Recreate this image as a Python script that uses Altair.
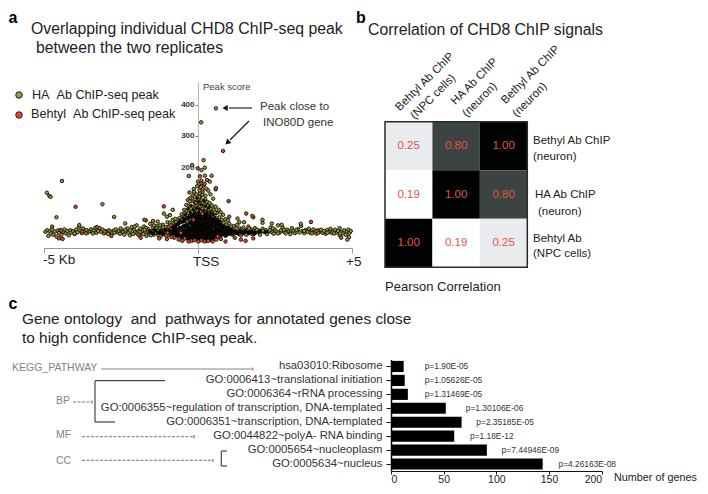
import altair as alt
import pandas as pd

# ---------- panel a values: (distance from TSS in kb, peak score) ----------
ha_left = [(-4.94,-9),(-4.88,-4),(-4.84,-22),(-4.8,-6),(-4.76,-14),(-4.72,-2),(-4.68,-18),(-4.63,-8),(-4.58,-24),(-4.54,-5),
 (-4.5,-13),(-4.46,-3),(-4.42,-19),(-4.37,-9),(-4.32,-1),(-4.28,-14),(-4.23,-6),(-4.18,-20),(-4.13,-4),(-4.09,-11),
 (-4.04,-7),(-3.99,-16),(-3.94,-2),(-3.9,-10),(-3.85,8),(-3.8,-5),(-3.76,-13),(-3.72,2),(-3.66,-8),(-3.61,-3),
 (-3.56,-11),(-3.5,-6),(-3.46,-1),(-3.42,-9),(-3.37,-4),(-3.32,4),(-3.28,-12),(-3.23,-6),(-3.18,3),(-3.13,-9),
 (-3.08,-2),(-3.04,-14),(-2.98,-7),(-2.93,-11),(-2.88,-4),(-2.82,-8),(-2.77,-13),(-2.72,-5),(-2.66,-1),(-2.61,-10),
 (-2.56,-6),(-2.52,-15),(-2.47,-3),(-2.42,-9),(-2.38,-18),(-2.33,-7),(-2.28,2),(-2.24,-12),(-2.19,-5),(-2.14,7),
 (-2.1,-16),(-2.06,-3),(-2.02,-10),(-1.98,12),(-1.94,-7),(-1.9,-20),(-1.86,2),(-1.82,-13),(-1.78,-4),(-1.74,8),
 (-1.7,-9),(-1.66,-22),(-1.62,1),(-1.58,-14),(-1.54,17),(-1.5,-6),(-1.46,6),(-1.43,-18),(-1.4,-2),(-1.36,-11),
 (-1.33,9),(-1.3,-5),(-1.26,-15),(-1.23,3),(-1.2,-23),(-1.16,-8),(-1.13,14),(-1.1,-2),(-1.07,-17),(-1.04,6),
 (-1.01,-10),(-0.98,22),(-0.95,-3),(-0.92,-20),(-0.89,11),(-0.86,-7),(-0.84,2),(-0.81,30),(-0.78,-13),(-0.76,18)]
ha_right = [(1.12,-18),(1.16,10),(1.2,-4),(1.24,-12),(1.28,14),(1.32,-6),(1.36,2),(1.4,-20),(1.44,-9),(1.48,5),
 (1.52,-14),(1.56,-3),(1.6,-8),(1.64,8),(1.68,-11),(1.72,-1),(1.76,-16),(1.8,-6),(1.85,3),(1.9,-10),
 (1.95,-4),(2.0,-13),(2.05,-7),(2.1,1),(2.15,-9),(2.2,-3),(2.26,-12),(2.31,-6),(2.36,5),(2.41,-10),
 (2.46,-15),(2.5,-2),(2.56,-8),(2.6,12),(2.65,-12),(2.7,-4),(2.75,5),(2.8,-9),(2.85,-14),(2.9,-2),
 (2.95,-7),(3.0,-11),(3.05,3),(3.1,-5),(3.15,-13),(3.2,-8),(3.25,-1),(3.3,-11),(3.35,10),(3.4,-6),
 (3.45,-13),(3.5,-3),(3.55,-9),(3.6,1),(3.65,-12),(3.7,-6),(3.75,-1),(3.8,-10),(3.85,-15),(3.9,-4),
 (3.95,-9),(4.0,-2),(4.05,-12),(4.1,-6),(4.15,-15),(4.2,-3),(4.25,-9),(4.3,1),(4.35,-13),(4.4,-7),
 (4.45,-2),(4.5,-11),(4.55,-6),(4.6,3),(4.65,-9),(4.7,-14),(4.75,-4),(4.8,-18),(4.84,-8),(4.88,-2),
 (4.92,-12),(4.96,-6),(4.9,-26),(4.85,-34),(4.6,-20),(3.34,17),(2.4,18),(2.1,20),(1.5,22),(2.72,14)]
ha_band_extra = [(-2.9,-16),(-2.7,-12),(-2.5,2),(-2.35,-2),(-2.2,-20),(-2.05,8),(-1.96,-14),(-1.88,-9),(-1.76,-16),(-1.68,4),
 (-1.6,-8),(-1.52,-20),(-1.44,-8),(-1.35,2),(-1.28,-20),(-1.18,-4),(-1.12,6),(-1.03,-20),(-0.94,8),(-0.88,-12),
 (-0.9,20),(-1.22,12),(-1.42,12),(-1.72,-2),(1.18,-14),(1.26,2),(1.34,-16),(1.42,-2),(1.5,-10),(1.58,-18),
 (1.66,2),(1.74,-10),(1.82,-16),(1.92,-2),(2.02,-18),(2.12,-6),(2.24,-16),(2.34,-4),(2.44,2),(2.6,-14),
 (2.8,-2),(3.0,-16),(3.2,-2),(3.45,-6),(3.7,-14),(3.9,-12),(4.2,-12),(4.42,-14),(4.62,-14),(-3.4,-14),(-3.62,-14),(-4.0,-14)]
ha_outliers = [(0.59,389),(0.11,344),(0.19,222),(-0.18,206),(0.23,198),(0.12,190),(-0.29,171),(0.45,172),(0.23,172),
 (-4.4,155),(-4.89,117),(-4.81,107),(-4.77,104),(-3.09,80),(-4.58,38),(-2.71,39),(-2.35,18),(-3.84,13),(-0.81,62),
 (-1.1,50),(-1.45,26),(-1.68,28),(1.29,34),(1.8,38),(2.1,30),(1.35,22),(-1.3,24),(-1.0,40),(-0.9,45),(-0.72,33)]
ha_peak = [(0.12,156),(0.01,153),(0.39,153),(0.58,128),(-0.13,129),(-0.12,120),(0.04,146),(-0.02,138),(0.1,135),(0.2,142),
 (0.28,130),(0.34,124),(0.16,120),(0.07,115),(-0.05,112),(-0.16,108),(-0.24,100),(0.41,112),(0.25,108),(0.5,98),
 (-0.32,94),(-0.2,90),(-0.08,96),(0.03,98),(0.13,92),(0.3,88),(0.38,84),(0.22,80),(0.47,76),(0.58,72),
 (0.68,62),(0.62,52),(0.74,54),(0.82,46),(-0.37,78),(-0.28,76),(-0.16,72),(-0.04,78),(0.08,74),(0.17,66),
 (0.28,62),(0.36,60),(0.46,56),(0.54,44),(0.7,38),(0.9,32),(0.98,28),(-0.44,62),(-0.36,58),(-0.27,60),
 (-0.18,56),(-0.1,60),(0.0,62),(0.1,56),(0.2,50),(0.3,46),(0.4,44),(0.48,40),(0.6,34),(0.78,30),
 (-0.52,48),(-0.45,40),(-0.34,44),(-0.25,46),(-0.14,44),(-0.05,46),(-0.58,36),(-0.66,30),(-0.5,32),(-0.4,34),
 (-0.3,36),(-0.7,22),(-0.62,18),(-0.75,12),(0.84,20),(0.93,14),(1.02,18),(1.08,8),(0.66,26),(0.72,22),
 (-0.26,90),(-0.1,104),(0.06,125),(0.14,110),(0.24,96),(0.33,74),(0.43,66),(0.52,62),(0.56,54),(-0.06,86),
 (0.15,84),(0.05,86),(-0.12,66),(-0.22,66),(0.25,68),(0.33,54),(-0.3,52),(-0.42,50),(0.44,50),(0.5,30)]
dense_upper = [(-0.02,100),(0.1,104),(0.2,92),(-0.1,84),(0.02,88),(0.12,78),(0.24,74),(0.36,70),(-0.22,76),(-0.32,66),
 (-0.14,62),(-0.03,68),(0.06,64),(0.18,58),(0.3,54),(0.42,52),(0.5,46),(-0.4,46),(-0.24,52),(-0.08,52),
 (0.03,54),(0.14,46),(0.26,48),(0.38,36),(0.54,36),(0.62,30),(-0.48,36),(-0.34,36),(-0.2,40),(-0.06,42),
 (0.08,44),(0.22,40),(0.34,34),(0.46,30),(0.7,24),(-0.58,26),(-0.44,24),(0.76,14),(-0.68,14),(0.86,10)]
dense_core = [(-0.8,-8),(-0.74,-14),(-0.7,-2),(-0.66,-20),(-0.62,-8),(-0.58,2),(-0.56,-14),(-0.52,-24),(-0.5,-5),(-0.46,8),
 (-0.44,-16),(-0.4,-28),(-0.38,-6),(-0.36,12),(-0.33,-18),(-0.3,2),(-0.28,-30),(-0.26,20),(-0.24,-10),(-0.2,-22),
 (-0.18,8),(-0.16,28),(-0.14,-14),(-0.12,-30),(-0.1,-2),(-0.08,18),(-0.06,36),(-0.04,-20),(-0.02,6),(0.0,-32),
 (0.02,-10),(0.03,24),(0.05,44),(0.06,-24),(0.08,10),(0.1,-4),(0.12,32),(0.14,-16),(0.15,-34),(0.17,48),
 (0.18,16),(0.2,-8),(0.22,-28),(0.23,34),(0.26,2),(0.28,22),(0.3,-20),(0.31,-36),(0.33,40),(0.35,8),
 (0.37,-10),(0.39,26),(0.41,-30),(0.43,-2),(0.45,14),(0.47,-18),(0.49,30),(0.52,-8),(0.54,-28),(0.56,8),
 (0.58,20),(0.6,-14),(0.63,-2),(0.66,-24),(0.69,10),(0.72,-8),(0.75,-18),(0.78,2),(0.82,-12),(0.86,-4),
 (0.9,-20),(0.94,-8),(0.98,2),(1.02,-14),(1.06,-6),(1.1,-10),(-0.22,-6),(-0.34,-8),(-0.1,-16),(0.04,-14),
 (0.13,-22),(0.25,-12),(0.36,-24),(0.46,-34),(0.1,20),(0.0,26),(-0.08,0),(0.2,6),(0.32,14),(0.42,6),
 (-0.16,-8),(-0.28,-14),(-0.42,-8),(0.06,-2),(0.16,0),(0.27,-4),(0.38,-4),(0.5,-16),(0.62,-10),(0.7,-14),
 (-0.12,14),(0.0,10),(0.08,30),(0.18,32),(0.28,12),(0.4,18),(0.53,16),(0.6,6),(-0.04,-6),(-0.2,-14)]
dense_sides = [(-1.55,-8),(-1.45,-14),(-1.38,-4),(-1.28,-12),(-1.2,-7),(-1.12,-16),(-1.05,-3),(-0.98,-12),(-0.92,-6),(-0.86,-18),
 (-0.8,6),(-0.72,10),(-0.64,16),(-0.56,22),(-0.48,24),(-0.4,30),(-0.32,34),(-0.24,40),(-0.12,46),(0.28,44),
 (0.4,38),(0.5,28),(0.62,24),(0.72,16),(0.84,8),(0.95,4),(1.1,-2),(1.14,-14),(1.22,-8),(1.3,-14),
 (1.38,-6),(1.46,-12),(1.55,-7),(1.65,-13),(1.75,-9),(1.85,-13),(2.0,-8),(2.2,-9)]
behtyl = [(0.82,252),(0.0,196),(0.07,170),(-3.96,72),(1.0,90),(-1.1,73),(1.57,50),(1.77,42),(3.67,23),(-1.73,30),
 (1.02,40),(-0.27,118),(0.59,132),(0.05,104),(0.16,128),(0.12,148),(0.22,146),(0.3,158),(-0.06,85),(-4.72,8),
 (-4.5,-30),(-4.38,-32),(-4.42,-5),(-3.75,-8),(-3.26,6),(-3.02,-8),(-0.88,12),(-0.76,-28),(-1.85,-28),(-2.8,-22),
 (-1.92,-18),(-1.25,-30),(-1.0,-32),(-0.85,-26),(-0.62,-34),(-0.5,-38),(-0.42,-30),(-0.3,-40),(-0.2,-38),(-0.1,-36),
 (0.02,-40),(0.12,-36),(0.22,-40),(0.34,-38),(0.48,-40),(0.6,-34),(0.75,-32),(0.9,-40),(1.2,-28),(1.4,-34),
 (1.55,-38),(1.8,-30),(3.85,-6),(-0.98,-12),(0.65,-24),(-0.35,24),(-0.14,30),(0.15,50),(-0.55,-12),(4.65,-28)]
tick_scores = [200, 300, 400]

# ---------- panel b values ----------
rows_b = ["Bethyl neuron", "HA neuron", "Behtyl NPC"]
cols_b = ["Behtyl NPC", "HA neuron", "Bethyl neuron"]
corr = [[0.25, 0.80, 1.00],
        [0.19, 1.00, 0.80],
        [1.00, 0.19, 0.25]]

# ---------- panel c values ----------
terms = ["hsa03010:Ribosome", "GO:0006413~translational initiation", "GO:0006364~rRNA processing",
         "GO:0006355~regulation of transcription, DNA-templated", "GO:0006351~transcription, DNA-templated",
         "GO:0044822~polyA- RNA binding", "GO:0005654~nucleoplasm", "GO:0005634~nucleus"]
genes = [12, 13, 16, 52, 67, 60, 91, 144]
pvals = ["p=1.90E-05", "p=1.05626E-05", "p=1.31469E-05", "p=1.30106E-06", "p=2.35185E-05", "p=1.18E-12",
         "p=7.44946E-09", "p=4.26163E-08"]
p_anchor = [32, 32, 32, 71, 81, 75, 105, 159]

FONT = "Liberation Sans"
NB = "\u00a0"
H = 478
PX = alt.Scale(domain=[0, 708], range=[-8, 700])
PY = alt.Scale(domain=[0, 494], range=[-8, 486])
OLIVE, RED = "#9a9a3e", "#e4472f"


def txt(rows, size, color="#222222", **kw):
    df = pd.DataFrame(rows, columns=["x", "y", "t"])
    opts = dict(align="left", baseline="middle", font=FONT, fontSize=size, color=color)
    opts.update(kw)
    return alt.Chart(df).mark_text(**opts).encode(
        x=alt.X("x:Q", scale=PX, axis=None), y=alt.Y("y:Q", scale=PY, axis=None), text="t:N")


def rules(rows, color="#555555", width=1.0, dash=None):
    df = pd.DataFrame(rows, columns=["x", "y", "x2", "y2"])
    opts = dict(color=color, strokeWidth=width)
    if dash:
        opts["strokeDash"] = dash
    return alt.Chart(df).mark_rule(**opts).encode(
        x=alt.X("x:Q", scale=PX, axis=None), y=alt.Y("y:Q", scale=PY, axis=None), x2="x2:Q", y2="y2:Q")


def head(x, y, angle):
    df = pd.DataFrame({"x": [x], "y": [y]})
    return alt.Chart(df).mark_point(shape="triangle", filled=True, color="#111111", size=38, angle=angle, opacity=1).encode(
        x=alt.X("x:Q", scale=PX, axis=None), y=alt.Y("y:Q", scale=PY, axis=None))


def dots(rows, fill):
    df = pd.DataFrame(rows, columns=["x", "y"])
    return alt.Chart(df).mark_point(shape="circle", filled=True, fill=fill, stroke="#222222", strokeWidth=1, size=42, opacity=1).encode(
        x=alt.X("x:Q", scale=PX, axis=None), y=alt.Y("y:Q", scale=PY, axis=None))


# ---------- panel a ----------
KB = alt.Scale(domain=[-5000, 5000], range=[35.5, 344])
SC = alt.Scale(domain=[-61, 474], range=[240, 74], zero=False, nice=False)


def scatter(points, fill, stroke="#1c1c10", size=12, width=1.0):
    df = pd.DataFrame(points, columns=["kb", "score"])
    df["bp"] = df["kb"] * 1000
    return alt.Chart(df).mark_point(shape="circle", filled=True, fill=fill, stroke=stroke, strokeWidth=width, size=size, opacity=1).encode(
        x=alt.X("bp:Q", scale=KB, axis=None), y=alt.Y("score:Q", scale=SC, axis=None))


axes_a = alt.Chart(pd.DataFrame({"bp": [0], "score": [0]})).mark_point(opacity=0).encode(
    x=alt.X("bp:Q", scale=KB, title=None,
            axis=alt.Axis(orient="bottom", offset=240 - H, values=[-5000, 0, 5000], labels=False, grid=False,
                          domainColor="#999999", tickColor="#999999", tickSize=5)),
    y=alt.Y("score:Q", scale=SC, title=None,
            axis=alt.Axis(orient="left", offset=-190, values=tick_scores, grid=False, domainColor="#b5b5b5",
                          tickColor="#888888", tickSize=3, labelFont=FONT, labelFontSize=8, labelFontWeight="bold",
                          labelColor="#333333", labelPadding=1)))

# ---------- panel b ----------
cells = pd.DataFrame([
    {"row": r, "col": c, "v": corr[i][j]} for i, r in enumerate(rows_b) for j, c in enumerate(cols_b)])
cells["label"] = cells["v"].map("{:.2f}".format)
HX = alt.Scale(domain=cols_b, range=[377, 519.3], paddingInner=0, paddingOuter=0)
HY = alt.Scale(domain=rows_b, range=[113.7, 259.3], paddingInner=0, paddingOuter=0)
heat = alt.Chart(cells).mark_rect().encode(
    x=alt.X("col:N", scale=HX, axis=None), y=alt.Y("row:N", scale=HY, axis=None),
    color=alt.Color("v:Q", legend=None, scale=alt.Scale(domain=[0.19, 0.25, 0.80, 1.0],
                    range=["#ffffff", "#e9ebee", "#3c4443", "#000000"])))
heat_text = alt.Chart(cells).mark_text(font=FONT, fontSize=11.5, color="#e5533f", baseline="middle").encode(
    x=alt.X("col:N", scale=HX, axis=None), y=alt.Y("row:N", scale=HY, axis=None), text="label:N")
frame_df = pd.DataFrame({"x": [385], "y": [121.7], "x2": [527.3], "y2": [267.3]})
frame = alt.Chart(frame_df).mark_rect(fillOpacity=0, stroke="#2a2a2a", strokeWidth=1.5).encode(
    x=alt.X("x:Q", scale=PX, axis=None), y=alt.Y("y:Q", scale=PY, axis=None), x2="x2:Q", y2="y2:Q")

# ---------- panel c ----------
bars_df = pd.DataFrame({"term": terms, "genes": genes, "p": pvals, "anchor": p_anchor})
BOTTOM = 463
BX = alt.Scale(domain=[0, 200], range=[383, 593.7], zero=True, nice=False)
BY = alt.Scale(domain=terms, range=[351.5, BOTTOM], paddingInner=0.2, paddingOuter=0.1)
bars = alt.Chart(bars_df).mark_bar(color="#000000").encode(
    x=alt.X("genes:Q", scale=BX, title=None,
            axis=alt.Axis(orient="bottom", offset=BOTTOM - H, values=[0, 50, 100, 150, 200], grid=False, domainColor="#111111",
                          tickColor="#111111", tickSize=3, domainWidth=1.2, labelFont=FONT, labelFontSize=10.5,
                          labelColor="#222222", labelPadding=0)),
    y=alt.Y("term:N", scale=BY, sort=terms, title=None,
            axis=alt.Axis(orient="left", offset=-383, grid=False, domainColor="#111111", tickColor="#111111",
                          domainWidth=1.5, tickSize=5, labelFont=FONT, labelFontSize=11.3, labelColor="#333333",
                          labelLimit=400, labelPadding=4)))
p_text = alt.Chart(bars_df).mark_text(align="left", baseline="middle", font=FONT, fontSize=8.4, color="#333333").encode(
    x=alt.X("anchor:Q", scale=BX, axis=None), y=alt.Y("term:N", scale=BY, sort=terms, axis=None), text="p:N")

layers = [
    axes_a,
    scatter(ha_left + ha_right + ha_band_extra, OLIVE),
    scatter(ha_peak + ha_outliers, OLIVE),
    scatter(dense_upper, "#1a1a0c", stroke="#000000", size=6, width=0.8),
    scatter(dense_sides, "#0c0c08", stroke="#000000", size=10),
    scatter(dense_core, "#0c0c08", stroke="#000000", size=18),
    scatter(behtyl, RED),
    txt([(31, 29, "Overlapping individual CHD8 ChIP-seq peak"), (36, 48, "between the two replicates")], 15.8),
    txt([(8.5, 22.5, "a"), (356, 22.5, "b"), (8.5, 309, "c")], 16, color="#000000", fontWeight="bold", baseline="alphabetic"),
    txt([(32, 95, f"HA{NB}{NB}Ab ChIP-seq peak"), (31, 114, f"Behtyl{NB}{NB}Ab ChIP-seq peak")], 12.6),
    dots([(19, 95)], OLIVE), dots([(19, 115)], RED),
    txt([(203, 87, "Peak score")], 9.5, color="#444444"),
    txt([(260, 107, "Peak close to"), (263, 123, "INO80D gene")], 11.5, color="#333333"),
    txt([(43, 260, "-5 Kb"), (193, 262, "TSS"), (346, 262, "+5")], 13.5, color="#222222"),
    rules([(229, 108, 252, 108), (230, 140, 249, 121)], color="#111111", width=1.1),
    head(226, 108, 270), head(228, 142, 225),
    heat, heat_text, frame,
    txt([(368, 30, "Correlation of CHD8 ChIP signals")], 15.8),
    txt([(425, 82, "Behtyl Ab ChIP"), (433.3, 97, "(NPC cells)"), (474.7, 81.7, "HA Ab ChIP"),
         (480, 100, "(neuron)"), (530.7, 75, "Bethyl Ab ChIP"), (530, 100, "(neuron)")],
        11.5, align="center", angle=315),
    txt([(533, 141, "Bethyl Ab ChIP"), (533, 157, "(neuron)"), (535, 195, "HA Ab ChIP"), (538, 212, "(neuron)"),
         (533, 239, "Behtyl Ab"), (533, 254, "(NPC cells)")], 11.5),
    txt([(385, 287, "Pearson Correlation")], 13),
    txt([(22, 319, f"Gene ontology{NB}{NB}and{NB}{NB}pathways for annotated genes close"),
         (22, 338, "to high confidence ChIP-seq peak.")], 15.4),
    txt([(12, 368, "KEGG_PATHWAY"), (56, 401, "BP"), (56, 435, "MF"), (56, 461, "CC")], 10.5, color="#7d8488"),
    rules([(101, 369, 253, 369), (253, 367.5, 253, 370.5)], color="#777777", width=0.9),
    rules([(73, 402, 92, 402), (82, 436.7, 194, 436.7), (82, 460.3, 213, 460.3)], color="#666666", width=0.9, dash=[3, 1.5]),
    rules([(92, 400.5, 92, 403.5), (194, 435, 194, 438.5), (213, 459, 213, 462)], color="#555555", width=0.9),
    rules([(95, 380.7, 95, 422), (95, 380.7, 165, 380.7), (95, 422, 115, 422),
           (221.3, 451, 221.3, 466), (221.3, 451, 227, 451), (221.3, 466, 227, 466)], color="#444444", width=1.2),
    bars, p_text,
    txt([(614, 478, "Number of genes")], 10.8),
]

chart = (alt.layer(*layers)
         .resolve_scale(x="independent", y="independent", color="independent")
         .properties(width=692, height=H, padding=0, autosize=alt.AutoSizeParams(type="none"))
         .configure_view(stroke=None))

chart.save("out.html", embed_options={"renderer": "svg", "actions": False})
